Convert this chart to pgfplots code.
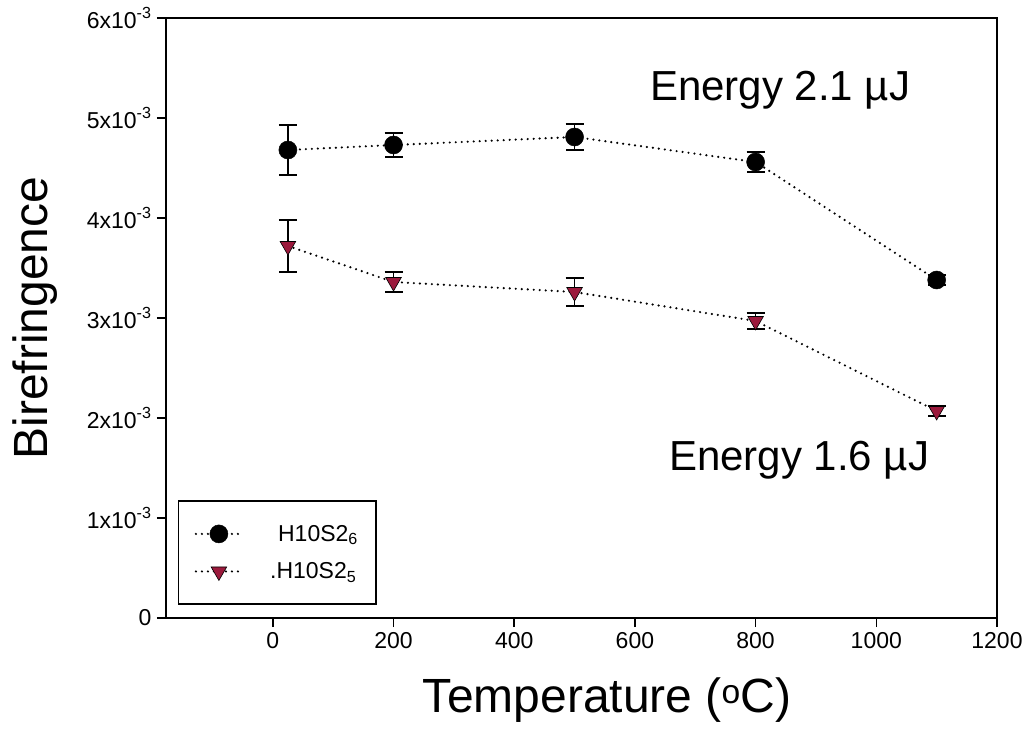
\documentclass[border=0pt]{standalone}
\usepackage{fontspec}
\setmainfont{Liberation Sans}
\usepackage{pgfplots}
\pgfplotsset{compat=1.18}
\definecolor{tri}{RGB}{155,25,60}
\begin{document}
\begin{tikzpicture}
\begin{axis}[
  scale only axis, width=831pt, height=600pt,
  clip=false,
  xmin=-177, xmax=1200, ymin=0, ymax=0.006,
  xtick={0,200,400,600,800,1000,1200},
  ytick={0,0.001,0.002,0.003,0.004,0.005,0.006},
  yticklabels={0,1x10\textsuperscript{-3},2x10\textsuperscript{-3},3x10\textsuperscript{-3},4x10\textsuperscript{-3},5x10\textsuperscript{-3},6x10\textsuperscript{-3}},
  /pgf/number format/assume math mode=true,
  /pgf/number format/1000 sep={},
  scaled y ticks=false,
  tick label style={font=\fontsize{23}{26}\selectfont},
  xtick pos=bottom, ytick pos=left,
  tick align=outside, major tick length=9pt,
  every tick/.style={line width=1.5pt, black},
  axis line style={line width=1.6pt},
  xticklabel style={yshift=-2pt},
  yticklabel style={xshift=-2pt},
  xlabel={Temperature (\textsuperscript{o}C)},
  ylabel={Birefringence},
  every axis x label/.style={at={(rel axis cs:0.531,-0.137)}, anchor=center, font=\fontsize{48}{52}\selectfont},
  every axis y label/.style={at={(rel axis cs:-0.158,0.5)}, rotate=90, anchor=center, font=\fontsize{48}{52}\selectfont},
  legend style={at={(rel axis cs:0.0144,0.0217)}, anchor=south west, draw=black, line width=1.5pt,
    font=\fontsize{23}{26}\selectfont, inner xsep=16pt, inner ysep=22pt, row sep=16pt},
  legend cell align=left,
  legend image code/.code={\draw[mark repeat=2,mark phase=2,#1] plot coordinates {(0pt,0pt) (23pt,0pt) (46pt,0pt)};},
]
\path (rel axis cs:-0.19976,-0.1983) rectangle (rel axis cs:1.0361,1.03);
\addplot[black, line width=2.4pt, line cap=round, dash pattern=on 0pt off 6pt,
  mark=*, mark size=9pt, mark options={solid, fill=black, line width=0.5pt},
  error bars/.cd, y dir=both, y explicit,
  error bar style={solid, line width=1.6pt, black},
  error mark options={rotate=90, mark size=9pt, line width=1.6pt, solid}]
  coordinates {
  (25,0.00468) +- (0,0.00025)
  (200,0.00473) +- (0,0.00012)
  (500,0.00481) +- (0,0.00013)
  (800,0.00456) +- (0,0.00010)
  (1100,0.00338) +- (0,0.00005)
};
\addlegendentry{\hspace*{33pt}H10S2\textsubscript{6}}
\addplot[black, line width=2.4pt, line cap=round, dash pattern=on 0pt off 6pt,
  mark=triangle*, mark size=9pt, mark options={solid, rotate=180, fill=tri, draw=black, line width=0.6pt},
  error bars/.cd, y dir=both, y explicit,
  error bar style={solid, line width=1.6pt, black},
  error mark options={rotate=90, mark size=9pt, line width=1.6pt, solid}]
  coordinates {
  (25,0.00372) +- (0,0.00026)
  (200,0.00336) +- (0,0.00010)
  (500,0.00326) +- (0,0.00014)
  (800,0.00297) +- (0,0.00008)
  (1100,0.00207) +- (0,0.00005)
};
\addlegendentry{\hspace*{25pt}.H10S2\textsubscript{5}}
\node[font=\fontsize{42}{46}\selectfont, anchor=center] at (rel axis cs:0.739,0.88) {Energy 2.1 µJ};
\node[font=\fontsize{42}{46}\selectfont, anchor=center] at (rel axis cs:0.762,0.263) {Energy 1.6 µJ};
\end{axis}
\end{tikzpicture}
\end{document}
